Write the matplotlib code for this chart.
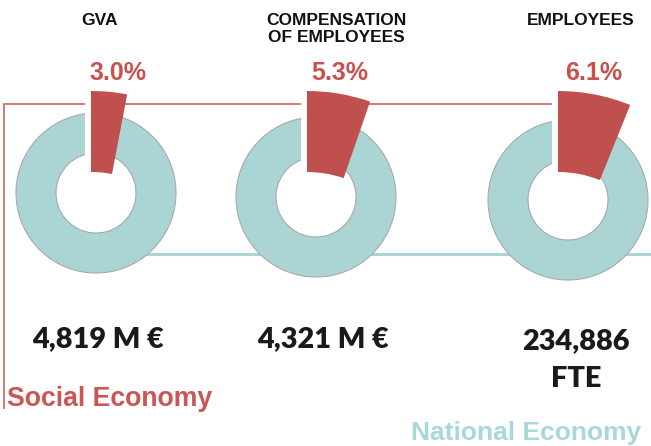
import matplotlib
matplotlib.use("Agg")
import matplotlib.pyplot as plt
from matplotlib.patches import Wedge, Rectangle
from matplotlib import font_manager

# ---- data ----
categories = ["GVA", "COMPENSATION\nOF EMPLOYEES", "EMPLOYEES"]
shares = [3.0, 5.3, 6.1]              # % of national economy
value_labels = ["4,819 M €", "4,321 M €", "234,886\nFTE"]
series_names = ["Social Economy", "National Economy"]

# ---- styling ----
TEAL = "#ABD5D5"
RED = "#C0504D"
RED_LINE = "#D46F6C"
RED_TXT = "#C9504F"

names = {f.name for f in font_manager.fontManager.ttflist}
narrow = "Liberation Sans Narrow" if "Liberation Sans Narrow" in names else None
head_font = dict(family=narrow, size=14) if narrow else dict(family="Liberation Sans", size=12.5)
num_font = "Lato" if "Lato" in names else "DejaVu Sans"

W, H = 651, 446
fig = plt.figure(figsize=(W / 100, H / 100), dpi=100)
ax = fig.add_axes([0, 0, 1, 1])
ax.set_xlim(0, W)
ax.set_ylim(0, H)
ax.axis("off")

def Y(p):
    return H - p

centers = [(96, 193), (316, 197), (568, 200)]
wedge_dx = [-5, -9, -10]
R_OUT, R_IN = 80, 40
WR_OUT, WR_IN = 193, 112
apex_py = 284

# connector lines
ax.plot([4, 4, 557], [Y(408), Y(104), Y(104)], color=RED_LINE, lw=1.3, zorder=1,
        solid_joinstyle="miter")
ax.plot([96, W], [Y(254), Y(254)], color=TEAL, lw=2.2, zorder=1)

for i, ((cx, cy), pct) in enumerate(zip(centers, shares)):
    a = pct * 3.6
    ring = Wedge((cx, Y(cy)), R_OUT, 90, 450 - a, width=R_OUT - R_IN,
                 facecolor=TEAL, edgecolor="#A9A9A9", lw=0.8, zorder=2)
    ax.add_patch(ring)
    lx = cx + wedge_dx[i]
    ax.add_patch(Rectangle((lx - 6, Y(178)), 6, 80, facecolor="white",
                           edgecolor="none", zorder=3))
    ax.add_patch(Wedge((lx, Y(apex_py)), WR_OUT, 90 - a, 90,
                       width=WR_OUT - WR_IN, facecolor=RED, edgecolor="none",
                       zorder=4))

# headings
head_x = [99, 336, 581]
for x, t in zip(head_x, categories):
    ax.text(x, Y(13), t, ha="center", va="top", fontweight="bold",
            color="#111111", linespacing=1.15, **head_font)

# percentages
pct_x = [118, 340, 594]
for x, p in zip(pct_x, shares):
    ax.text(x, Y(73), f"{p:.1f}%", ha="center", va="center", family="Liberation Sans",
            fontweight="bold", fontsize=18, color=RED_TXT)

# values
val_x = [98, 323, 576]
val_y = [326, 326, 328]
for x, y, t in zip(val_x, val_y, value_labels):
    ax.text(x, Y(y), t, ha="center", va="top", family=num_font,
            fontweight="heavy", fontsize=20.8, color="#1a1a1a", linespacing=1.55)

ax.text(7, Y(399), series_names[0], ha="left", va="center", family="Liberation Sans",
        fontweight="bold", fontsize=19.2, color="#CC5555")
ax.text(641, Y(433), series_names[1], ha="right", va="center", family="Liberation Sans",
        fontweight="bold", fontsize=19, color="#A8D8D8")

fig.savefig("out.png", dpi=100)
